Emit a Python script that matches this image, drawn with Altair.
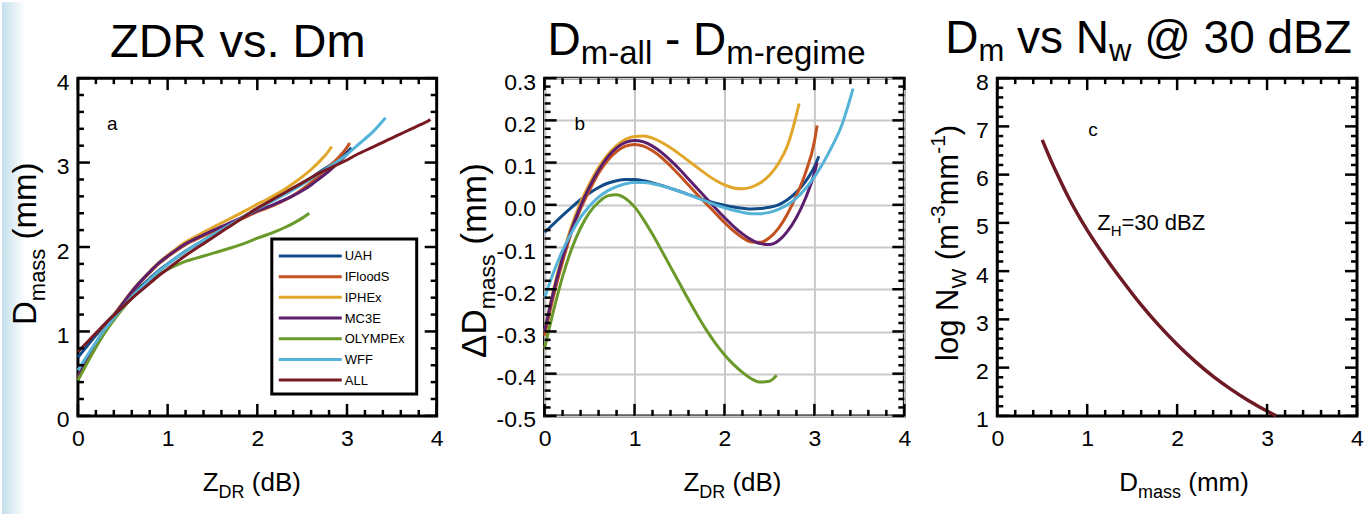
import altair as alt
import pandas as pd

FONT = "Liberation Sans"

# ---------------- data ----------------
names = ["UAH", "IFloodS", "IPHEx", "MC3E", "OLYMPEx", "WFF", "ALL"]
colors = ["#124c88", "#c4521f", "#e2a62a", "#5b1f6d", "#6b9a2b", "#56b3d8", "#771a22"]

zdr_grid = [0.0, 0.1, 0.2, 0.3, 0.4, 0.5, 0.6, 0.7, 0.8, 0.9, 1.0, 1.1, 1.2, 1.3,
            1.4, 1.5, 1.6, 1.7, 1.8, 1.9, 2.0, 2.1, 2.2, 2.3, 2.4, 2.5, 2.6, 2.7,
            2.8, 2.9, 3.0, 3.1, 3.2, 3.3, 3.4, 3.5, 3.6, 3.7, 3.8, 3.9]

z_uah = zdr_grid[:31] + [3.05]
z_ifloods = zdr_grid[:31] + [3.03]
z_iphex = zdr_grid[:29] + [2.83]
z_mc3e = zdr_grid[:31] + [3.03]
z_olympex = zdr_grid[:26] + [2.58]
z_wff = zdr_grid[:34] + [3.43]
z_all = zdr_grid + [3.93]

# panel a: D_mass (mm)
dm_uah = [0.695, 0.825, 0.955, 1.084, 1.202, 1.318, 1.431, 1.531, 1.627, 1.72, 1.80,
          1.877, 1.952, 2.016, 2.079, 2.142, 2.204, 2.267, 2.33, 2.394, 2.459, 2.515,
          2.572, 2.63, 2.691, 2.754, 2.82, 2.892, 2.96, 3.035, 3.12, 3.175]
dm_ifloods = [0.45, 0.655, 0.845, 1.025, 1.18, 1.325, 1.465, 1.585, 1.696, 1.799, 1.883,
              1.959, 2.028, 2.082, 2.132, 2.18, 2.227, 2.274, 2.322, 2.37, 2.418, 2.458,
              2.502, 2.552, 2.611, 2.682, 2.764, 2.858, 2.952, 3.055, 3.18, 3.233]
dm_iphex = [0.46, 0.67, 0.86, 1.04, 1.195, 1.34, 1.478, 1.598, 1.71, 1.815, 1.902, 1.983,
            2.058, 2.118, 2.175, 2.23, 2.284, 2.338, 2.392, 2.448, 2.507, 2.56, 2.618,
            2.682, 2.752, 2.83, 2.918, 3.02, 3.143, 3.19]
dm_mc3e = [0.46, 0.665, 0.855, 1.032, 1.187, 1.333, 1.472, 1.593, 1.705, 1.808, 1.892,
           1.969, 2.039, 2.094, 2.145, 2.194, 2.241, 2.288, 2.335, 2.382, 2.43, 2.469,
           2.511, 2.557, 2.608, 2.666, 2.735, 2.817, 2.90, 2.995, 3.105, 3.145]
dm_olympex = [0.42, 0.62, 0.81, 0.985, 1.135, 1.272, 1.396, 1.501, 1.594, 1.675, 1.735,
              1.785, 1.83, 1.862, 1.893, 1.924, 1.955, 1.988, 2.023, 2.062, 2.105, 2.142,
              2.183, 2.228, 2.28, 2.342, 2.40]
dm_wff = [0.54, 0.71, 0.872, 1.024, 1.16, 1.287, 1.408, 1.513, 1.613, 1.71, 1.793, 1.873,
          1.95, 2.015, 2.079, 2.142, 2.204, 2.266, 2.328, 2.39, 2.453, 2.507, 2.562, 2.619,
          2.679, 2.742, 2.809, 2.88, 2.946, 3.018, 3.096, 3.19, 3.28, 3.376, 3.53]
dm_all = [0.76, 0.87, 0.98, 1.09, 1.19, 1.29, 1.39, 1.48, 1.57, 1.66, 1.74, 1.82, 1.90,
          1.97, 2.04, 2.11, 2.18, 2.25, 2.32, 2.39, 2.46, 2.52, 2.58, 2.64, 2.70, 2.76,
          2.82, 2.88, 2.93, 2.98, 3.03, 3.09, 3.14, 3.19, 3.24, 3.29, 3.34, 3.39, 3.44,
          3.49, 3.51]

# panel b: delta D_mass (mm)
dd_uah = [-0.065, -0.045, -0.025, -0.006, 0.012, 0.028, 0.041, 0.051, 0.057, 0.060, 0.060,
          0.057, 0.052, 0.046, 0.039, 0.032, 0.024, 0.017, 0.010, 0.004, -0.001, -0.005,
          -0.008, -0.010, -0.009, -0.006, 0.000, 0.012, 0.030, 0.055, 0.090, 0.115]
dd_ifloods = [-0.31, -0.215, -0.135, -0.065, -0.01, 0.035, 0.075, 0.105, 0.126, 0.139, 0.143,
              0.139, 0.128, 0.112, 0.092, 0.07, 0.047, 0.024, 0.002, -0.02, -0.042, -0.062,
              -0.078, -0.088, -0.089, -0.078, -0.056, -0.022, 0.022, 0.075, 0.15, 0.188]
dd_iphex = [-0.30, -0.20, -0.12, -0.05, 0.005, 0.05, 0.088, 0.118, 0.14, 0.155, 0.162, 0.163,
            0.158, 0.148, 0.135, 0.12, 0.104, 0.088, 0.072, 0.058, 0.047, 0.04, 0.038, 0.042,
            0.052, 0.07, 0.098, 0.14, 0.213, 0.24]
dd_mc3e = [-0.30, -0.205, -0.125, -0.058, -0.003, 0.043, 0.082, 0.113, 0.135, 0.148, 0.152,
           0.149, 0.139, 0.124, 0.105, 0.084, 0.061, 0.038, 0.015, -0.008, -0.03, -0.051,
           -0.069, -0.083, -0.092, -0.094, -0.085, -0.063, -0.03, 0.015, 0.075, 0.10]
dd_olympex = [-0.34, -0.25, -0.17, -0.105, -0.055, -0.018, 0.006, 0.021, 0.024, 0.015, -0.005,
              -0.035, -0.07, -0.108, -0.147, -0.186, -0.225, -0.262, -0.297, -0.328, -0.355,
              -0.378, -0.397, -0.412, -0.42, -0.418, -0.404]
dd_wff = [-0.22, -0.16, -0.108, -0.066, -0.03, -0.003, 0.018, 0.033, 0.043, 0.05, 0.053, 0.053,
          0.05, 0.045, 0.039, 0.032, 0.024, 0.016, 0.008, 0.0, -0.007, -0.013, -0.018, -0.021,
          -0.021, -0.018, -0.011, 0.0, 0.016, 0.038, 0.066, 0.1, 0.14, 0.186, 0.275]

# panel c: log Nw vs D_mass at 30 dBZ
dm_c = [0.5, 0.6, 0.7, 0.8, 0.9, 1.0, 1.2, 1.4, 1.6, 1.8, 2.0, 2.2, 2.4, 2.6, 2.8, 3.0, 3.1]
lognw_c = [6.72, 6.28, 5.88, 5.5, 5.16, 4.85, 4.29, 3.78, 3.30, 2.87, 2.48, 2.13, 1.82, 1.55,
           1.31, 1.10, 1.0]

ticks_04 = [0, 1, 2, 3, 4]
ticks_b_y = [-0.5, -0.4, -0.3, -0.2, -0.1, 0.0, 0.1, 0.2, 0.3]
ticks_c_y = [1, 2, 3, 4, 5, 6, 7, 8]

# ---------------- layout constants ----------------
WA, WB, WC, H = 359, 360, 360, 338
MAJ, MIN_ = 12, 6
ONE = pd.DataFrame({"k": [0]})

AW = {' ': 278, '(': 333, ')': 333, '-': 333, '.': 278, '=': 584, '@': 1015, 'Δ': 668}
for c in "0123456789":
    AW[c] = 556
AW.update(dict(zip("ABCDEFGHIJKLMNOPQRSTUVWXYZ",
                   [667, 667, 722, 722, 667, 611, 778, 722, 278, 500, 667, 556, 833, 722,
                    778, 667, 778, 722, 667, 611, 722, 667, 944, 667, 667, 611])))
AW.update(dict(zip("abcdefghijklmnopqrstuvwxyz",
                   [556, 556, 500, 556, 556, 278, 556, 556, 222, 222, 500, 222, 833, 556,
                    556, 556, 556, 333, 500, 278, 556, 500, 722, 500, 500, 500])))


def tw(s, size):
    return sum(AW.get(ch, 556) for ch in s) * size / 1000.0


def txt(s, x, y, size, angle=0, align="left", color="black"):
    return alt.Chart(ONE).mark_text(
        text=s, font=FONT, fontSize=size, align=align, baseline="alphabetic",
        angle=angle, color=color
    ).encode(x=alt.value(x), y=alt.value(y))


def compose(pieces, x0, y0, vertical=False):
    out = []
    cur = y0 if vertical else x0
    for s, size, shift in pieces:
        lead = len(s) - len(s.lstrip(" "))
        body = s.strip(" ")
        off = tw(" " * lead, size)
        if vertical:
            out.append(txt(body, x0 + shift, cur - off, size, angle=270))
            cur -= tw(s, size)
        else:
            out.append(txt(body, cur + off, y0 + shift, size))
            cur += tw(s, size)
    return out


def centered(pieces, cx, y0):
    total = sum(tw(s, size) for s, size, _ in pieces)
    return compose(pieces, cx - total / 2.0, y0)


def minor(lo, hi, step, majors):
    n = int(round((hi - lo) / step))
    vals = [round(lo + i * step, 4) for i in range(n + 1)]
    return [v for v in vals if all(abs(v - m) > 1e-6 for m in majors)]


def tick_layers(xs, ys, xax, yax, xmaj, xmin, ymaj, ymin, w, h):
    out = []
    for vals, L in ((xmaj, MAJ), (xmin, MIN_)):
        d = pd.DataFrame({"tv": vals})
        b = alt.Chart(d).mark_rule(color="black", strokeWidth=2.5)
        xe = alt.X("tv:Q", scale=xs, axis=xax)
        out.append(b.encode(x=xe, y=alt.value(h), y2=alt.value(h - L)))
        out.append(b.encode(x=xe, y=alt.value(0), y2=alt.value(L)))
    for vals, L in ((ymaj, MAJ), (ymin, MIN_)):
        d = pd.DataFrame({"tv": vals})
        b = alt.Chart(d).mark_rule(color="black", strokeWidth=2.5)
        ye = alt.Y("tv:Q", scale=ys, axis=yax)
        out.append(b.encode(y=ye, x=alt.value(0), x2=alt.value(L)))
        out.append(b.encode(y=ye, x=alt.value(w - L), x2=alt.value(w)))
    return out


def curve(z, v, color, xs, ys, xaxis, yaxis, sw=3):
    d = pd.DataFrame({"z": z, "v": v})
    return alt.Chart(d).mark_line(color=color, strokeWidth=sw, interpolate="monotone").encode(
        x=alt.X("z:Q", scale=xs, axis=xaxis),
        y=alt.Y("v:Q", scale=ys, axis=yaxis),
        order="z:Q",
    )


def xaxis(values, grid=False):
    kw = dict(values=values, ticks=False, tickSize=0, domain=False, labelFontSize=23,
              labelFont=FONT, labelColor="black", labelPadding=12, title="", grid=grid,
              labelFlush=False, labelOverlap=False)
    if grid:
        kw.update(gridColor="#c9c9c9", gridWidth=2)
    return alt.Axis(**kw)


def yaxis(values, grid=False, expr=None):
    kw = dict(values=values, ticks=False, tickSize=0, domain=False, labelFontSize=23,
              labelFont=FONT, labelColor="black", labelPadding=9, title="", grid=grid,
              labelFlush=False, labelOverlap=False, labelOffset=4)
    if grid:
        kw.update(gridColor="#c9c9c9", gridWidth=2)
    if expr:
        kw.update(labelExpr=expr)
    return alt.Axis(**kw)


# ---------------- panel a ----------------
xs_a = alt.Scale(domain=[0, 4], nice=False, zero=False)
ys_a = alt.Scale(domain=[0, 4], nice=False, zero=False)
ax_a = xaxis(ticks_04)
ay_a = yaxis(ticks_04)

# slide-like light blue strip on the left edge (also anchors the page's top-left corner)
strip = alt.Chart(ONE).mark_rect(
    color=alt.LinearGradient(gradient="linear", x1=0, x2=1, y1=0, y2=0,
                             stops=[alt.GradientStop(offset=0, color="#c4dfeb"),
                                    alt.GradientStop(offset=0.5, color="#e2f0f6"),
                                    alt.GradientStop(offset=1, color="#ffffff")])
).encode(x=alt.value(-76), x2=alt.value(-52), y=alt.value(-76), y2=alt.value(438))

series_a = [(z_uah, dm_uah), (z_ifloods, dm_ifloods), (z_iphex, dm_iphex), (z_mc3e, dm_mc3e),
            (z_olympex, dm_olympex), (z_wff, dm_wff), (z_all, dm_all)]
curves_a = [curve(z, v, colors[i], xs_a, ys_a, ax_a, ay_a) for i, (z, v) in enumerate(series_a)]

minor_x = minor(0, 4, 0.2, ticks_04)
ticks_a = tick_layers(xs_a, ys_a, ax_a, ay_a, ticks_04, minor_x, ticks_04,
                      minor(0, 4, 0.2, ticks_04), WA, H)

# legend (drawn by hand, MATLAB style)
LX0, LX1, LY0, LY1 = 194, 339, 161, 316
legend = [alt.Chart(ONE).mark_rect(fill="white", stroke="black", strokeWidth=3).encode(
    x=alt.value(LX0), x2=alt.value(LX1), y=alt.value(LY0), y2=alt.value(LY1))]
for i, nm in enumerate(names):
    yy = 178 + i * 20.7
    legend.append(alt.Chart(ONE).mark_rule(color=colors[i], strokeWidth=3).encode(
        x=alt.value(201), x2=alt.value(264), y=alt.value(yy)))
    legend.append(txt(nm, 267, yy + 4.5, 13))

texts_a = [txt("a", 29, 52, 19),
           txt("ZDR vs. Dm", 160, -21, 47, align="center")]
texts_a += centered([("Z", 26, 0), ("DR", 18, 7), (" (dB)", 26, 0)], 174, 413)
texts_a += compose([("D", 33, 0), ("mass", 22, 9), (" (mm)", 33, 0)], -42, 247, vertical=True)

panel_a = alt.layer(strip, *curves_a, *ticks_a, *legend, *texts_a).properties(width=WA, height=H)

# ---------------- panel b ----------------
xs_b = alt.Scale(domain=[0, 4], nice=False, zero=False)
ys_b = alt.Scale(domain=[-0.5, 0.3], nice=False, zero=False)
ax_b = xaxis(ticks_04, grid=True)
ay_b = yaxis(ticks_b_y, grid=True,
             expr="(datum.value < -0.001 ? '-' : '') + format(abs(datum.value), '.1f')")
series_b = [(z_uah, dd_uah), (z_ifloods, dd_ifloods), (z_iphex, dd_iphex), (z_mc3e, dd_mc3e),
            (z_olympex, dd_olympex), (z_wff, dd_wff)]
curves_b = [curve(z, v, colors[i], xs_b, ys_b, ax_b, ay_b) for i, (z, v) in enumerate(series_b)]
ticks_b = tick_layers(xs_b, ys_b, ax_b, ay_b, ticks_04, minor_x, ticks_b_y,
                      minor(-0.5, 0.3, 0.02, ticks_b_y), WB, H)
texts_b = [txt("b", 30, 52, 19)]
texts_b += compose([("D", 46, 0), ("m-all", 33, 9), (" - ", 46, 0), ("D", 46, 0),
                    ("m-regime", 33, 9)], 3, -23)
texts_b += centered([("Z", 26, 0), ("DR", 18, 7), (" (dB)", 26, 0)], 188, 413)
texts_b += compose([("ΔD", 35, 0), ("mass", 23, 9), (" (mm)", 35, 0)], -59, 280, vertical=True)
panel_b = alt.layer(*curves_b, *ticks_b, *texts_b).properties(width=WB, height=H)

# ---------------- panel c ----------------
xs_c = alt.Scale(domain=[0, 4], nice=False, zero=False)
ys_c = alt.Scale(domain=[1, 8], nice=False, zero=False)
ax_c = xaxis(ticks_04)
ay_c = yaxis(ticks_c_y)
curve_c = curve(dm_c, lognw_c, "#6e1a24", xs_c, ys_c, ax_c, ay_c, sw=3.5)
ticks_c = tick_layers(xs_c, ys_c, ax_c, ay_c, ticks_04, minor_x, ticks_c_y,
                      minor(1, 8, 0.2, ticks_c_y), WC, H)
texts_c = [txt("c", 91, 58, 19)]
texts_c += compose([("D", 46, 0), ("m", 31, 8), (" vs ", 46, 0), ("N", 46, 0), ("w", 31, 8),
                    (" @ 30 dBZ", 46, 0)], -52, -25)
texts_c += compose([("Z", 22, 0), ("H", 15, 6), ("=30 dBZ", 22, 0)], 100, 152)
texts_c += centered([("D", 26, 0), ("mass", 18, 7), (" (mm)", 26, 0)], 187, 413)
texts_c += compose([("log N", 31, 0), ("W", 21, 8), (" (m", 31, 0), ("-3", 21, -13),
                    ("mm", 31, 0), ("-1", 21, -13), (")", 31, 0)], -39, 283, vertical=True)
panel_c = alt.layer(curve_c, *ticks_c, *texts_c).properties(width=WC, height=H)

inner = alt.hconcat(panel_b, panel_c, spacing=93, bounds="flush")
chart = alt.hconcat(panel_a, inner, spacing=108, bounds="flush").properties(
    padding=0, background="white"
).configure_view(stroke="black", strokeWidth=3)

chart.save("out.html", embed_options={"renderer": "svg", "actions": False})
